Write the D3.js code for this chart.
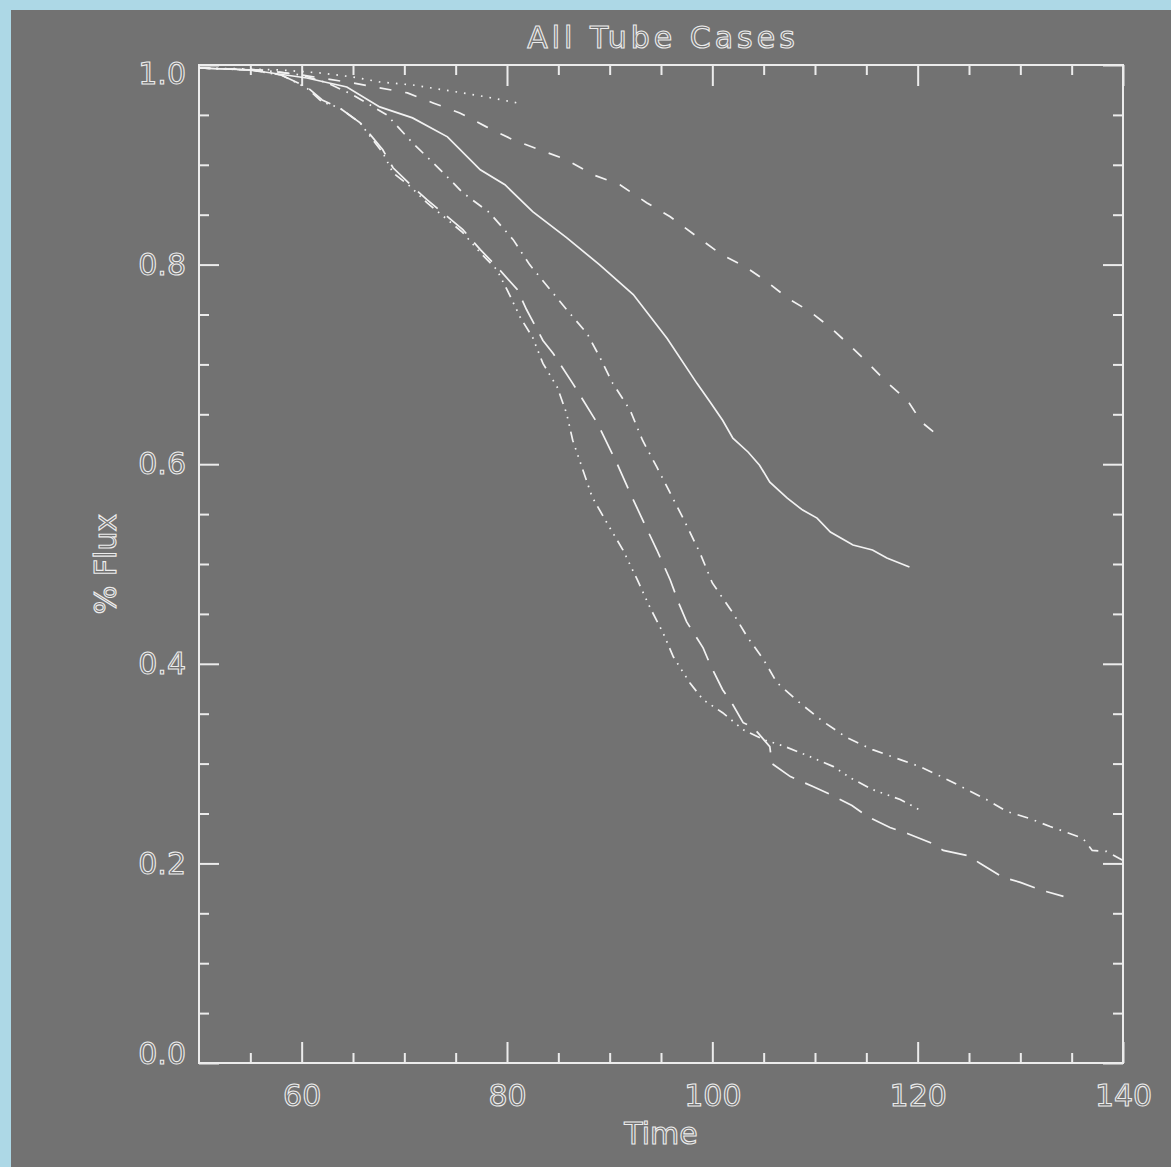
<!DOCTYPE html>
<html>
<head>
<meta charset="utf-8">
<script src="https://cdn.jsdelivr.net/npm/d3@7"></script>
<style>
  body { margin: 0; background: #add8e6; }
  svg { display: block; }
  .lbl { font-family: "DejaVu Sans", sans-serif; font-size: 30px; fill: none; stroke: #ececec; stroke-width: 1.1px; }
</style>
</head>
<body>
<svg id="chart" width="1171" height="1167"></svg>
<script>

// ----------------- DATA ----------------- //
// each series: [time, fraction of flux]
var dotted = [[50,0.997],[55,0.996],[58,0.995],[61.8,0.992],[65,0.988],[67.6,0.983],[70.8,0.98],[75.7,0.972],[78,0.968],[81,0.962]];

var dashed = [[50,0.997],[56,0.995],[60,0.99],[65,0.982],[70.3,0.972],[72.8,0.962],[75.4,0.952],[78,0.938],[80.6,0.925],
  [83.2,0.915],[85.8,0.905],[88.4,0.89],[91,0.88],[93.6,0.862],[95.9,0.848],[98.5,0.828],[100.9,0.81],[103.2,0.798],
  [105.3,0.783],[107.4,0.766],[109.5,0.753],[111.5,0.737],[113.4,0.719],[115.2,0.701],[117,0.682],[119,0.664],
  [120.4,0.642],[122.2,0.627]];

var solid = [[50,0.997],[55,0.995],[60.5,0.987],[64.4,0.978],[67.6,0.958],[70.8,0.947],[74.2,0.928],[77.4,0.895],
  [79.8,0.88],[82.5,0.853],[85.8,0.827],[89,0.80],[92.3,0.77],[95.6,0.726],[98.5,0.681],[99.8,0.662],[101,0.644],
  [102,0.626],[103.5,0.612],[104.6,0.599],[105.6,0.582],[107.3,0.566],[108.8,0.554],[110.2,0.546],[111.5,0.532],
  [113.7,0.519],[115.6,0.514],[117,0.506],[119.2,0.497]];

var dashDot = [[50,0.997],[56,0.995],[60,0.99],[62.5,0.982],[65,0.97],[68.3,0.95],[70.8,0.922],[73.5,0.895],[75.7,0.872],
  [78.3,0.852],[80.6,0.825],[82.2,0.80],[84.2,0.775],[85.8,0.755],[87.8,0.731],[89,0.708],[90.3,0.681],[92,0.654],
  [93.2,0.624],[94.6,0.597],[95.6,0.577],[97.2,0.545],[98.8,0.511],[100,0.481],[102,0.451],[103.4,0.427],[105,0.404],
  [106.3,0.381],[108.5,0.361],[110.8,0.342],[113.1,0.326],[115.6,0.314],[118.3,0.304],[120.2,0.297],[122.5,0.286],
  [124.8,0.274],[126.7,0.264],[128.7,0.252],[130.9,0.245],[132.9,0.237],[134.8,0.230],[136.1,0.225],[137,0.213],
  [138.4,0.212],[140,0.203]];

var dashDots = [[50,0.997],[55,0.995],[58,0.99],[60.5,0.977],[62,0.963],[63.7,0.957],[65.7,0.942],[66.7,0.928],
  [67.9,0.912],[68.9,0.892],[70.6,0.878],[72.2,0.862],[74.2,0.845],[75.7,0.832],[77.4,0.812],[79,0.795],[80,0.775],
  [81.3,0.747],[82.5,0.727],[83.5,0.701],[84.9,0.677],[85.8,0.651],[86.4,0.624],[87.4,0.594],[88.3,0.567],[89.8,0.54],
  [91.3,0.514],[92.7,0.484],[93.9,0.457],[95.2,0.431],[96.2,0.407],[97.8,0.381],[99.1,0.364],[101,0.351],[103,0.334],
  [105,0.324],[107.1,0.317],[109.5,0.307],[111.8,0.297],[113.4,0.286],[115.6,0.274],[118.3,0.264],[120.5,0.252]];

var longDash = [[50,0.997],[55,0.995],[58,0.99],[60.5,0.978],[62,0.965],[63.7,0.957],[65.7,0.942],[66.7,0.93],
  [67.9,0.915],[68.9,0.897],[70.6,0.88],[72.2,0.865],[74.2,0.848],[75.7,0.835],[77.4,0.815],[79,0.798],[81,0.775],
  [81.9,0.755],[83.5,0.724],[84.5,0.711],[86.4,0.681],[88.8,0.641],[90.7,0.601],[92,0.571],[93.4,0.54],[94.6,0.514],
  [95.9,0.484],[96.8,0.459],[97.5,0.442],[99.1,0.416],[99.8,0.399],[101,0.374],[102,0.359],[103,0.341],[104,0.336],
  [105.6,0.317],[105.8,0.30],[107.6,0.287],[109.8,0.277],[111.5,0.269],[113.6,0.258],[115.1,0.247],[117.3,0.236],
  [119,0.230],[121.2,0.221],[122.5,0.213],[124.8,0.208],[126.1,0.200],[128.3,0.186],[130,0.181],[132.1,0.173],
  [134.2,0.167]];

var xMajor = [60, 80, 100, 120, 140];
var xMinor = [55, 65, 70, 75, 85, 90, 95, 105, 110, 115, 125, 130, 135];
var yMajor = [0, 0.2, 0.4, 0.6, 0.8, 1.0];
var yMinor = [0.05, 0.1, 0.15, 0.25, 0.3, 0.35, 0.45, 0.5, 0.55, 0.65, 0.7, 0.75, 0.85, 0.9, 0.95];

// ----------------- SETUP ----------------- //
var svg = d3.select('#chart');
var fg = '#ececec';

svg.append('rect')
    .attr('x', 11).attr('y', 10)
    .attr('width', 1160).attr('height', 1157)
    .attr('fill', '#727272');

var x = d3.scaleLinear().domain([50, 140]).range([199, 1123]);
var y = d3.scaleLinear().domain([0, 1]).range([1063, 65]);

// ----------------- AXES ----------------- //
function styleAxis(g) {
    g.attr('color', fg);
    g.select('.domain').remove();
    g.selectAll('line').attr('stroke-width', 2);
    g.selectAll('text').attr('class', 'lbl');
}

svg.append('g').attr('transform', 'translate(0,1063)')
    .call(d3.axisBottom(x).tickValues(xMajor).tickSize(-21).tickPadding(22).tickFormat(d3.format('d')))
    .call(styleAxis);
svg.append('g').attr('transform', 'translate(0,1063)')
    .call(d3.axisBottom(x).tickValues(xMinor).tickSize(-10).tickFormat(''))
    .call(styleAxis);
svg.append('g').attr('transform', 'translate(0,65)')
    .call(d3.axisTop(x).tickValues(xMajor).tickSize(-21).tickFormat(''))
    .call(styleAxis);
svg.append('g').attr('transform', 'translate(0,65)')
    .call(d3.axisTop(x).tickValues(xMinor).tickSize(-10).tickFormat(''))
    .call(styleAxis);

var left = svg.append('g').attr('transform', 'translate(199,0)')
    .call(d3.axisLeft(y).tickValues(yMajor).tickSize(-20).tickPadding(13).tickFormat(d3.format('.1f')))
    .call(styleAxis);
// end labels are pushed inside the axis range
left.selectAll('text').attr('dy', d => d === 1 ? '0.62em' : d === 0 ? '0em' : '0.32em');

svg.append('g').attr('transform', 'translate(199,0)')
    .call(d3.axisLeft(y).tickValues(yMinor).tickSize(-10).tickFormat(''))
    .call(styleAxis);
svg.append('g').attr('transform', 'translate(1123,0)')
    .call(d3.axisRight(y).tickValues(yMajor).tickSize(-20).tickFormat(''))
    .call(styleAxis);
svg.append('g').attr('transform', 'translate(1123,0)')
    .call(d3.axisRight(y).tickValues(yMinor).tickSize(-10).tickFormat(''))
    .call(styleAxis);

// plot box
svg.append('rect')
    .attr('x', x(50)).attr('y', y(1))
    .attr('width', x(140) - x(50)).attr('height', y(0) - y(1))
    .attr('fill', 'none').attr('stroke', fg).attr('stroke-width', 2);

// ----------------- TITLES ----------------- //
svg.append('text').attr('class', 'lbl')
    .attr('x', 663).attr('y', 48).attr('text-anchor', 'middle')
    .style('letter-spacing', '4px')
    .text('All Tube Cases');
svg.append('text').attr('class', 'lbl')
    .attr('x', 661).attr('y', 1144).attr('text-anchor', 'middle')
    .text('Time');
svg.append('text').attr('class', 'lbl')
    .attr('transform', 'translate(116,564) rotate(-90)')
    .attr('text-anchor', 'middle')
    .text('% Flux');

// ----------------- CURVES ----------------- //
var series = [
    { data: dotted, dash: '1.6,7' },
    { data: dashed, dash: '12,14' },
    { data: solid, dash: null },
    { data: dashDot, dash: '11,7,1.6,7' },
    { data: dashDots, dash: '11,6,1.6,6,1.6,6,1.6,6' },
    { data: longDash, dash: '26,12' }
];

var line = d3.line()
    .x(d => x(d[0]))
    .y(d => y(d[1]));

svg.append('g').selectAll('path')
    .data(series)
    .join('path')
    .attr('d', d => line(d.data))
    .attr('fill', 'none')
    .attr('stroke', '#f2f2f2')
    .attr('stroke-width', 1.7)
    .attr('stroke-dasharray', d => d.dash);

</script>
</body>
</html>
